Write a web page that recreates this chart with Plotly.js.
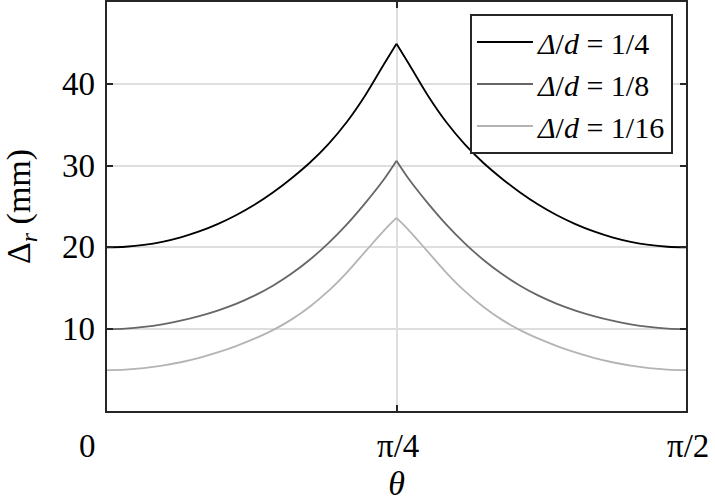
<!DOCTYPE html>
<html>
<head>
<meta charset="utf-8">
<script src="https://cdn.plot.ly/plotly-3.0.1.min.js"></script>
<style>
  body { margin: 0; background: #fff; }
  #chart { width: 715px; height: 502px; }
</style>
</head>
<body>
<div id="chart"></div>
<script>
// theta (rad)
const theta = [0, 0.05, 0.1, 0.15, 0.2, 0.25, 0.3, 0.35, 0.4, 0.45, 0.5, 0.55, 0.6, 0.65, 0.7, 0.75, 0.7854,
    0.8208, 0.8708, 0.9208, 0.9708, 1.0208, 1.0708, 1.1208, 1.1708, 1.2208, 1.2708, 1.3208, 1.3708, 1.4208, 1.4708, 1.5208, 1.5708];

// Delta/d = 1/4
const dr4 = [20.0, 20.08, 20.3, 20.68, 21.23, 21.95, 22.85, 23.93, 25.21, 26.71, 28.43, 30.35, 32.6, 35.3, 38.55, 42.3, 44.9,
    42.3, 38.55, 35.3, 32.6, 30.35, 28.43, 26.71, 25.21, 23.93, 22.85, 21.95, 21.23, 20.68, 20.3, 20.08, 20.0];

// Delta/d = 1/8
const dr8 = [10.0, 10.08, 10.28, 10.6, 11.04, 11.6, 12.28, 13.1, 14.1, 15.32, 16.77, 18.49, 20.49, 22.79, 25.39, 28.24, 30.6,
    28.24, 25.39, 22.79, 20.49, 18.49, 16.77, 15.32, 14.1, 13.1, 12.28, 11.6, 11.04, 10.6, 10.28, 10.08, 10.0];

// Delta/d = 1/16
const dr16 = [5.0, 5.06, 5.24, 5.54, 5.96, 6.5, 7.16, 7.94, 8.84, 9.89, 11.17, 12.75, 14.65, 16.9, 19.45, 22.0, 23.6,
    22.0, 19.45, 16.9, 14.65, 12.75, 11.17, 9.89, 8.84, 7.94, 7.16, 6.5, 5.96, 5.54, 5.24, 5.06, 5.0];

const seriesNames = ['<i>Δ</i>/<i>d</i> = 1/4', '<i>Δ</i>/<i>d</i> = 1/8', '<i>Δ</i>/<i>d</i> = 1/16'];
const seriesColors = ['#000000', '#666666', '#b4b4b4'];
const xTickVals = [0, Math.PI / 4, Math.PI / 2];
const xTickText = ['0', 'π/4', 'π/2'];
const yTickVals = [10, 20, 30, 40];

const serif = '"Liberation Serif", "Times New Roman", serif';
const frame = '#262626';

// each curve is smooth on both sides of the cusp at pi/4,
// so draw it as two spline halves sharing one legend entry
const peakIdx = 16;
var data = [];
[dr4, dr8, dr16].forEach(function (ys, i) {
    data.push({
        x: theta.slice(0, peakIdx + 1), y: ys.slice(0, peakIdx + 1),
        type: 'scatter', mode: 'lines', name: seriesNames[i], legendgroup: 'g' + i,
        line: {color: seriesColors[i], width: 1.8, shape: 'spline', smoothing: 1}
    });
    data.push({
        x: theta.slice(peakIdx), y: ys.slice(peakIdx),
        type: 'scatter', mode: 'lines', name: seriesNames[i], legendgroup: 'g' + i, showlegend: false,
        line: {color: seriesColors[i], width: 1.8, shape: 'spline', smoothing: 1}
    });
});

// tick labels as annotations: the "0" sits left of the axis corner,
// and the y labels sit further in than plotly would put them
var xShifts = [-20, 1, 2];
var annotations = xTickVals.map(function (v, i) {
    return {
        x: v, xref: 'x', y: 0, yref: 'paper',
        text: xTickText[i], showarrow: false,
        xanchor: 'center', yanchor: 'top', xshift: xShifts[i], yshift: -15,
        font: {family: serif, size: 33, color: '#000'}
    };
});
yTickVals.forEach(function (v) {
    annotations.push({
        x: 0, xref: 'paper', y: v, yref: 'y',
        text: String(v), showarrow: false,
        xanchor: 'right', yanchor: 'middle', xshift: -10,
        font: {family: serif, size: 33, color: '#000'}
    });
});

var layout = {
    width: 715,
    height: 502,
    margin: {l: 107, r: 29, t: 2, b: 91},
    paper_bgcolor: '#ffffff',
    plot_bgcolor: '#ffffff',
    font: {family: serif, size: 33, color: '#000'},
    showlegend: true,
    legend: {
        x: 0.9775, y: 0.9707, xanchor: 'right', yanchor: 'top',
        bgcolor: '#ffffff', bordercolor: frame, borderwidth: 2,
        font: {family: serif, size: 30, color: '#000'},
        itemwidth: 56,
        tracegroupgap: 0
    },
    xaxis: {
        range: [0, Math.PI / 2],
        tickvals: xTickVals,
        showticklabels: false,
        ticks: 'inside', ticklen: 6, tickwidth: 2, tickcolor: frame,
        showgrid: true, gridcolor: '#dedede', gridwidth: 2,
        showline: true, linecolor: frame, linewidth: 2, mirror: 'ticks',
        zeroline: false,
        title: {text: '<i>θ</i>', standoff: 65, font: {family: serif, size: 34}}
    },
    yaxis: {
        range: [0, 50],
        tickvals: yTickVals,
        showticklabels: false,
        ticks: 'inside', ticklen: 6, tickwidth: 2, tickcolor: frame,
        showgrid: true, gridcolor: '#dedede', gridwidth: 2,
        showline: true, linecolor: frame, linewidth: 2, mirror: 'ticks',
        zeroline: false,
        title: {text: 'Δ<sub><i>r</i></sub> (mm)', standoff: 70, font: {family: serif, size: 34}}
    },
    annotations: annotations
};

Plotly.newPlot('chart', data, layout, {displayModeBar: false, staticPlot: true});
</script>
</body>
</html>
